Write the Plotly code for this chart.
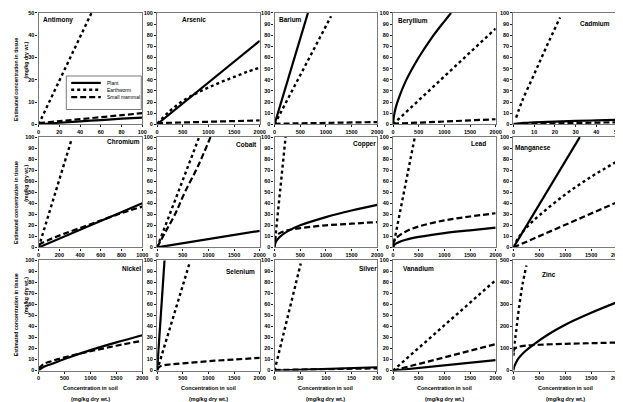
import plotly.graph_objects as go

W, H = 623, 402

# ---------------- data ----------------
ELEMENTS = ["Antimony", "Arsenic", "Barium", "Beryllium", "Cadmium",
            "Chromium", "Cobalt", "Copper", "Lead", "Manganese",
            "Nickel", "Selenium", "Silver", "Vanadium", "Zinc"]
X_MAX = [100, 2000, 2000, 2000, 50, 1000, 2000, 2000, 2000, 2000, 2000, 2000, 200, 2000, 2000]
X_DTICK = [20, 500, 500, 500, 10, 200, 500, 500, 500, 500, 500, 500, 50, 500, 500]
Y_MAX = [50, 100, 100, 100, 100, 100, 100, 100, 100, 100, 100, 100, 100, 100, 500]
Y_DTICK = [10, 10, 10, 10, 10, 10, 10, 10, 10, 10, 10, 10, 10, 10, 100]
LEGEND_LABELS = ["Plant", "Earthworm", "Small mammal"]

antimony_plant_x = [0, 20, 40, 60, 80, 100]
antimony_plant_y = [0, 0.7, 1.3, 1.9, 2.5, 3.0]
antimony_worm_x = [0, 51]
antimony_worm_y = [0, 50]
antimony_mammal_x = [0, 20, 40, 60, 80, 100]
antimony_mammal_y = [0.5, 1.4, 2.3, 3.2, 4.1, 5.0]

arsenic_plant_x = [0, 2000]
arsenic_plant_y = [0, 75]
arsenic_worm_x = [0, 250, 500, 750, 1000, 1250, 1500, 1750, 2000]
arsenic_worm_y = [0.5, 12, 21, 27.5, 33, 38, 42.5, 47, 51]
arsenic_mammal_x = [0, 2000]
arsenic_mammal_y = [1, 3.5]

barium_plant_x = [0, 650]
barium_plant_y = [0, 100]
barium_worm_x = [0, 1100]
barium_worm_y = [0, 97]
barium_mammal_x = [0, 2000]
barium_mammal_y = [0.5, 2]

beryllium_plant_x = [0, 20, 50, 100, 250, 500, 750, 1000, 1130]
beryllium_plant_y = [0, 8, 14.5, 22, 39, 60, 77.5, 92.5, 100]
beryllium_worm_x = [0, 2000]
beryllium_worm_y = [0, 86]
beryllium_mammal_x = [0, 2000]
beryllium_mammal_y = [0.5, 4.5]

cadmium_plant_x = [0, 5, 10, 20, 30, 40, 50]
cadmium_plant_y = [0, 1.2, 1.7, 2.4, 3.0, 3.5, 4.0]
cadmium_worm_x = [1.3, 4, 10, 16, 22.5]
cadmium_worm_y = [6, 20, 45, 70, 96]
cadmium_mammal_x = [0, 50]
cadmium_mammal_y = [0.3, 1.8]

chromium_plant_x = [0, 1000]
chromium_plant_y = [0, 40]
chromium_worm_x = [0, 315]
chromium_worm_y = [0, 97]
chromium_mammal_x = [0, 100, 250, 500, 750, 1000]
chromium_mammal_y = [2.5, 7, 12.5, 21, 29.5, 37]

cobalt_plant_x = [0, 2000]
cobalt_plant_y = [0, 15]
cobalt_worm_x = [0, 820]
cobalt_worm_y = [0, 100]
cobalt_mammal_x = [0, 150, 350, 530, 800, 1040]
cobalt_mammal_y = [0, 13, 30, 49, 74, 100]

copper_plant_x = [0, 25, 100, 250, 500, 1000, 1500, 2000]
copper_plant_y = [0, 5, 9.5, 14.5, 20, 27.5, 33.5, 38.5]
copper_worm_x = [0, 215]
copper_worm_y = [2, 100]
copper_mammal_x = [0, 25, 100, 250, 500, 1000, 1500, 2000]
copper_mammal_y = [5, 10, 13, 15.5, 17.5, 20, 21.5, 23]

lead_plant_x = [0, 25, 100, 250, 500, 1000, 1500, 2000]
lead_plant_y = [0, 2.5, 4.5, 7, 9.5, 13, 15.5, 18]
lead_worm_x = [0, 425]
lead_worm_y = [0, 100]
lead_mammal_x = [0, 25, 100, 250, 500, 1000, 1500, 2000]
lead_mammal_y = [2, 6, 10, 14.5, 19, 24.5, 28, 31]

manganese_plant_x = [0, 1280]
manganese_plant_y = [0, 100]
manganese_worm_x = [0, 100, 250, 500, 1000, 1500, 2000]
manganese_worm_y = [0, 9, 18, 29, 48, 64, 78]
manganese_mammal_x = [0, 2000]
manganese_mammal_y = [0, 41]

nickel_plant_x = [0, 100, 250, 500, 1000, 1500, 2000]
nickel_plant_y = [0, 3.5, 6, 10.5, 18.5, 25.5, 32]
nickel_mammal_x = [0, 100, 250, 500, 1000, 1500, 2000]
nickel_mammal_y = [2, 6, 8.5, 12, 17.5, 22.5, 27]

selenium_plant_x = [0, 145]
selenium_plant_y = [0, 100]
selenium_worm_x = [0, 630]
selenium_worm_y = [0, 97]
selenium_mammal_x = [0, 50, 100, 250, 500, 1000, 1500, 2000]
selenium_mammal_y = [1, 3.5, 4.5, 5.5, 6.5, 8.5, 10, 11.5]

silver_plant_x = [0, 200]
silver_plant_y = [0, 3]
silver_worm_x = [0, 51]
silver_worm_y = [0, 97]
silver_mammal_x = [0, 200]
silver_mammal_y = [0.5, 2]

vanadium_plant_x = [0, 2000]
vanadium_plant_y = [0, 9.5]
vanadium_worm_x = [0, 2000]
vanadium_worm_y = [0, 82]
vanadium_mammal_x = [0, 2000]
vanadium_mammal_y = [0, 24]

zinc_plant_x = [0, 10, 50, 100, 200, 400, 700, 1000, 1500, 2000]
zinc_plant_y = [0, 14, 36, 56, 82, 120, 168, 208, 262, 310]
zinc_worm_x = [0, 25, 50, 110, 175, 250]
zinc_worm_y = [67, 130, 175, 290, 390, 476]
zinc_mammal_x = [0, 10, 50, 100, 250, 500, 1000, 1500, 2000]
zinc_mammal_y = [85, 95, 103, 108, 113, 117, 121, 124, 127]

SERIES = {
    "Antimony": [(antimony_plant_x, antimony_plant_y, "plant"), (antimony_worm_x, antimony_worm_y, "worm"), (antimony_mammal_x, antimony_mammal_y, "mammal")],
    "Arsenic": [(arsenic_plant_x, arsenic_plant_y, "plant"), (arsenic_worm_x, arsenic_worm_y, "worm"), (arsenic_mammal_x, arsenic_mammal_y, "mammal")],
    "Barium": [(barium_plant_x, barium_plant_y, "plant"), (barium_worm_x, barium_worm_y, "worm"), (barium_mammal_x, barium_mammal_y, "mammal")],
    "Beryllium": [(beryllium_plant_x, beryllium_plant_y, "plant"), (beryllium_worm_x, beryllium_worm_y, "worm"), (beryllium_mammal_x, beryllium_mammal_y, "mammal")],
    "Cadmium": [(cadmium_plant_x, cadmium_plant_y, "plant"), (cadmium_worm_x, cadmium_worm_y, "worm"), (cadmium_mammal_x, cadmium_mammal_y, "mammal")],
    "Chromium": [(chromium_plant_x, chromium_plant_y, "plant"), (chromium_worm_x, chromium_worm_y, "worm"), (chromium_mammal_x, chromium_mammal_y, "mammal")],
    "Cobalt": [(cobalt_plant_x, cobalt_plant_y, "plant"), (cobalt_worm_x, cobalt_worm_y, "worm"), (cobalt_mammal_x, cobalt_mammal_y, "mammal")],
    "Copper": [(copper_plant_x, copper_plant_y, "plant"), (copper_worm_x, copper_worm_y, "worm"), (copper_mammal_x, copper_mammal_y, "mammal")],
    "Lead": [(lead_plant_x, lead_plant_y, "plant"), (lead_worm_x, lead_worm_y, "worm"), (lead_mammal_x, lead_mammal_y, "mammal")],
    "Manganese": [(manganese_plant_x, manganese_plant_y, "plant"), (manganese_worm_x, manganese_worm_y, "worm"), (manganese_mammal_x, manganese_mammal_y, "mammal")],
    "Nickel": [(nickel_plant_x, nickel_plant_y, "plant"), (nickel_mammal_x, nickel_mammal_y, "mammal")],
    "Selenium": [(selenium_plant_x, selenium_plant_y, "plant"), (selenium_worm_x, selenium_worm_y, "worm"), (selenium_mammal_x, selenium_mammal_y, "mammal")],
    "Silver": [(silver_plant_x, silver_plant_y, "plant"), (silver_worm_x, silver_worm_y, "worm"), (silver_mammal_x, silver_mammal_y, "mammal")],
    "Vanadium": [(vanadium_plant_x, vanadium_plant_y, "plant"), (vanadium_worm_x, vanadium_worm_y, "worm"), (vanadium_mammal_x, vanadium_mammal_y, "mammal")],
    "Zinc": [(zinc_plant_x, zinc_plant_y, "plant"), (zinc_worm_x, zinc_worm_y, "worm"), (zinc_mammal_x, zinc_mammal_y, "mammal")],
}

# ---------------- styles / layout ----------------
FONT = "Liberation Sans, Arial, sans-serif"
LINE = {
    "plant": dict(color="black", width=2.2, dash="solid"),
    "worm": dict(color="black", width=2.4, dash="dot"),
    "mammal": dict(color="black", width=2.2, dash="6px,3px"),
}
COL_PX = [(29, 134), (149, 253), (268, 372), (388, 492), (510, 615)]
ROW_PX = [(2, 115), (128, 240), (253, 365)]
TITLE_POS = {
    "Antimony": (49, 9), "Arsenic": (186, 9), "Barium": (284, 9), "Beryllium": (408, 10),
    "Cadmium": (593, 13), "Chromium": (115, 132), "Cobalt": (240, 136), "Copper": (359, 135),
    "Lead": (475, 135), "Manganese": (530, 139), "Nickel": (123, 261), "Selenium": (233, 264),
    "Silver": (363, 261), "Vanadium": (414, 261), "Zinc": (546, 267),
}


def px(x):
    return x / W


def py(y):
    return 1 - y / H


fig = go.Figure()
layout = {}
annotations = []
shapes = []

for i, el in enumerate(ELEMENTS):
    r, c = divmod(i, 5)
    suf = "" if i == 0 else str(i + 1)
    for xs, ys, kind in SERIES[el]:
        fig.add_trace(go.Scatter(
            x=xs, y=ys, mode="lines", line=dict(**LINE[kind], shape="spline", smoothing=1.0),
            xaxis="x" + suf, yaxis="y" + suf, showlegend=False, hoverinfo="skip"))
    common = dict(showline=True, mirror=True, linecolor="#7a7a7a", linewidth=1.3,
                  ticks="outside", ticklen=2, tickwidth=0.8, tickcolor="#222",
                  showgrid=False, zeroline=False, fixedrange=True,
                  tickfont=dict(family=FONT, size=5.5, color="black", weight="bold"))
    x0, x1 = COL_PX[c]
    y0, y1 = ROW_PX[r]
    layout["xaxis" + suf] = dict(common, domain=[px(x0), px(x1)], anchor="y" + suf,
                                 range=[0, X_MAX[i]], dtick=X_DTICK[i], tick0=0)
    layout["yaxis" + suf] = dict(common, domain=[py(y1), py(y0)], anchor="x" + suf,
                                 range=[0, Y_MAX[i]], dtick=Y_DTICK[i], tick0=0)
    tx, ty = TITLE_POS[el]
    annotations.append(dict(text=el, x=px(tx), y=py(ty), xref="paper", yref="paper",
                            showarrow=False, xanchor="center", yanchor="middle", borderpad=0,
                            font=dict(family=FONT, size=6.5, color="black", weight="bold")))

# y-axis titles (left column)
for top in [23, 148, 262]:
    for text, xx, length in [("Estimated concentration in tissue", 6, 92), ("(mg/kg dry wt.)", 16, 53)]:
        annotations.append(dict(text=text, x=px(xx), y=py(top + length / 2), xref="paper", yref="paper",
                                textangle=-90, showarrow=False, xanchor="center", yanchor="middle",
                                borderpad=0,
                                font=dict(family=FONT, size=5.2, color="black", weight="bold")))

# x-axis titles (bottom row)
for c in range(5):
    cx = (COL_PX[c][0] + COL_PX[c][1]) / 2
    for text, yy in [("Concentration in soil", 383), ("(mg/kg dry wt.)", 394)]:
        annotations.append(dict(text=text, x=px(cx), y=py(yy), xref="paper", yref="paper",
                                showarrow=False, xanchor="center", yanchor="middle", borderpad=0,
                                font=dict(family=FONT, size=5.5, color="black", weight="bold")))

# legend box inside the Antimony panel
shapes.append(dict(type="rect", xref="paper", yref="paper", x0=px(57), x1=px(133), y0=py(100), y1=py(66),
                   line=dict(color="#7a7a7a", width=1), fillcolor="white", layer="above"))
for k, (kind, yy) in enumerate(zip(["plant", "worm", "mammal"], [73, 80, 87.5])):
    shapes.append(dict(type="line", xref="paper", yref="paper", x0=px(62), x1=px(92), y0=py(yy), y1=py(yy),
                       line=dict(color="black", width=LINE[kind]["width"], dash=LINE[kind]["dash"]), layer="above"))
    annotations.append(dict(text=LEGEND_LABELS[k], x=px(97), y=py(yy), xref="paper", yref="paper",
                            showarrow=False, xanchor="left", yanchor="middle", borderpad=0,
                            font=dict(family=FONT, size=5, color="black")))

fig.update_layout(
    width=W, height=H, margin=dict(l=0, r=0, t=0, b=0),
    paper_bgcolor="white", plot_bgcolor="white", showlegend=False,
    annotations=annotations, shapes=shapes, **layout)

fig.write_html("out.html")
